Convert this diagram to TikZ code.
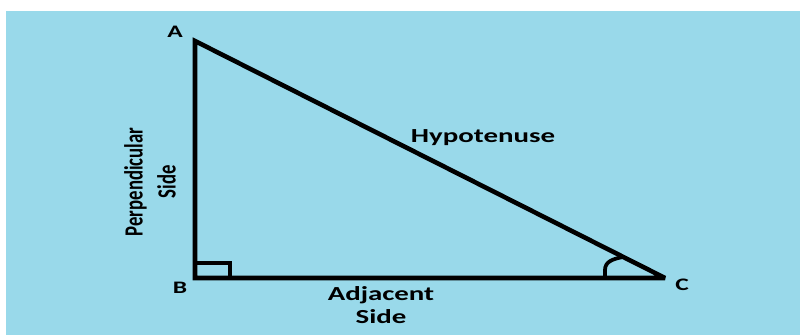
\documentclass[tikz,border=0pt]{standalone}
\usepackage{fontspec}
\setmainfont{Carlito}
\usepackage{xcolor}
\usepackage{tikz}
\usetikzlibrary{positioning}
\definecolor{paintblue}{RGB}{153,217,234}

\begin{document}
\begin{tikzpicture}[
    side/.style={line width=3.9pt, line join=miter, miter limit=2},
    vertex/.style={font=\fontsize{15}{18}\selectfont\bfseries, xscale=1.45, inner sep=0pt},
    lbl/.style={font=\fontsize{17}{20}\selectfont\bfseries, xscale=1.45, align=center, inner sep=2pt},
    rotlbl/.style={font=\fontsize{16}{19}\selectfont\bfseries, rotate=90, yscale=1.4, align=center, inner sep=0pt}
]
\useasboundingbox (0,0) rectangle (24,10.05);
\fill[paintblue] (0.18,0) rectangle (24,9.72);
% Corners
\coordinate (A) at (5.85, 8.82);
\coordinate (B) at (5.85, 1.71);
\coordinate (C) at (19.95, 1.71);
% Triangle
\draw[side] (A) -- (B) -- (C) -- cycle;
\draw[line width=2.8pt] (B) rectangle ++(1.05, 0.45);
\draw[line width=3.2pt] (18.15,1.71) -- (18.15,1.95) .. controls (18.15,2.19) and (18.36,2.28) .. (18.69,2.34);
% Vertex labels
\node[vertex] (lA) at (5.25, 9.09) {A};
\node[vertex] (lB) at (5.4, 1.41)  {B};
\node[vertex] (lC) at (20.46, 1.5) {C};
% Side labels
\node[lbl, anchor=base] (hyp) at (14.49, 5.76) {Hypotenuse};
\node[lbl, anchor=north] (adj) at (11.43, 1.53) {Adjacent\\Side};
\node[rotlbl] (perp) at (4.5, 4.59) {Perpendicular\\[1pt]Side};
\end{tikzpicture}
\end{document}
